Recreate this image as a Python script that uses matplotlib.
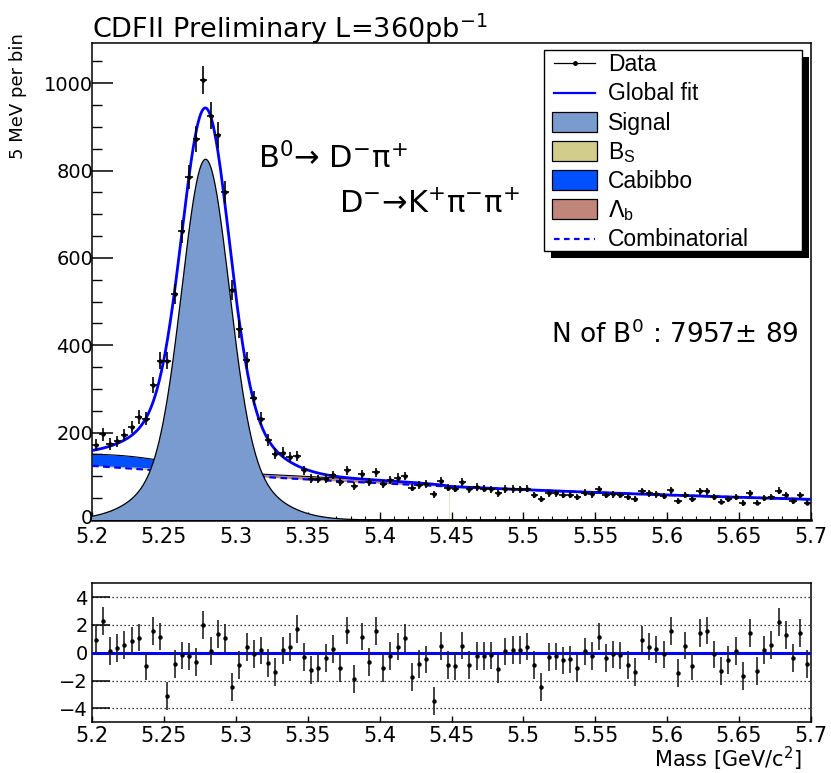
import numpy as np
import matplotlib
matplotlib.use("Agg")
import matplotlib.pyplot as plt
from matplotlib.patches import Rectangle
from matplotlib.lines import Line2D
from matplotlib.transforms import ScaledTranslation

# ---- binning: 5 MeV bins across the B0 mass window ----
mass_lo, mass_hi, bin_width = 5.2, 5.7, 0.005

# events per bin
counts = [172, 196, 174, 180, 195, 213, 236, 232, 309, 365,
          365, 518, 661, 786, 872, 1008, 926, 882, 750, 527,
          438, 366, 279, 232, 183, 152, 154, 144, 147, 114,
          95, 94, 95, 103, 86, 114, 78, 105, 86, 109,
          82, 91, 97, 101, 74, 80, 82, 59, 90, 74,
          72, 86, 70, 75, 72, 70, 61, 71, 71, 70,
          72, 57, 48, 61, 61, 57, 57, 53, 62, 59,
          70, 57, 59, 57, 52, 47, 66, 61, 59, 55,
          68, 44, 57, 47, 66, 66, 53, 42, 48, 53,
          39, 61, 40, 51, 53, 67, 57, 44, 57, 40]

# (data - fit) / error per bin
pulls = [0.93, 2.31, 0.12, 0.33, 0.57, 0.86, 1.10, -0.98, 1.55, 1.17,
         -3.10, -0.83, -0.19, -0.26, -0.64, 2.02, 0.12, 1.36, 1.05, -2.45,
         -0.86, 0.40, -0.07, 0.17, -0.71, -1.36, 0.17, 0.40, 1.71, -0.31,
         -1.21, -1.10, -0.38, 0.29, -1.10, 1.60, -1.90, 1.17, -0.67, 1.55,
         -1.10, -0.24, 0.45, 1.07, -1.74, -0.79, -0.48, -3.48, 0.48, -0.90,
         -0.95, 0.52, -0.90, -0.24, -0.24, -0.19, -1.14, 0.10, 0.21, 0.21,
         0.45, -0.90, -2.45, -0.31, -0.26, -0.55, -0.48, -1.10, 0.10, -0.24,
         1.17, -0.36, -0.12, -0.19, -0.86, -1.38, 0.93, 0.45, 0.24, -0.12,
         1.55, -1.43, 0.52, -0.95, 1.43, 1.60, -0.12, -1.31, -0.50, 0.12,
         -1.67, 1.40, -1.33, 0.21, 0.57, 2.24, 1.29, -0.38, 1.40, -0.79]

# ---- fit model parameters (events per bin) ----
signal_mean = 5.279
signal_core = (676.0, 0.016)      # amplitude, sigma
signal_tail = (150.0, 0.033)
comb_norm, comb_slope = 124.0, 1.93
cabibbo_par = (26.0, 5.21, 0.045)  # amplitude, mean, sigma
lambdab_par = (7.0, 5.375, 0.073)  # amplitude, centre, half-width
bs_par = (5.0, 5.25, 0.03)

x_ticks = [5.2, 5.25, 5.3, 5.35, 5.4, 5.45, 5.5, 5.55, 5.6, 5.65, 5.7]
x_tick_labels = ["5.2", "5.25", "5.3", "5.35", "5.4", "5.45", "5.5",
                 "5.55", "5.6", "5.65", "5.7"]
y_ticks = [0, 200, 400, 600, 800, 1000]
pull_ticks = [-4, -2, 0, 2, 4]

legend_labels = ["Data", "Global fit", "Signal", r"B$_\mathregular{S}$",
                 "Cabibbo", r"$\Lambda_\mathregular{b}$", "Combinatorial"]

title_text = r"CDFII Preliminary L=360pb$^{-1}$"
decay1_text = r"B$^{0}$→ D$^{-}$π$^{+}$"
decay2_text = r"D$^{-}$→K$^{+}$π$^{-}$π$^{+}$"
yield_text = "N of B$^{0}$ : 7957± 89"

signal_color = "#7a9bcf"
bs_color = "#d3cd8c"
cabibbo_color = "#0050ff"
lambdab_color = "#c0867a"
fit_color = "#0000ff"

# ---- model components ----
def gauss(m, a, mu, s):
    return a * np.exp(-0.5 * ((m - mu) / s) ** 2)

def signal(m):
    return gauss(m, signal_core[0], signal_mean, signal_core[1]) + \
        gauss(m, signal_tail[0], signal_mean, signal_tail[1])

def combinatorial(m):
    return comb_norm * np.exp(-comb_slope * (m - mass_lo))

def lambdab(m):
    a, c, w = lambdab_par
    u = np.clip(1 - ((m - c) / w) ** 2, 0, None)
    return a * np.sqrt(u)

def bs(m):
    return gauss(m, *bs_par)

def cabibbo(m):
    return gauss(m, *cabibbo_par)

W, H = 831, 773
fig = plt.figure(figsize=(W / 100, H / 100), dpi=100)
fx = lambda px: px / W
fy = lambda py: 1 - py / H

plt.rcParams["font.family"] = ["DejaVu Sans"]
plt.rcParams["mathtext.fontset"] = "dejavusans"

ax = fig.add_axes([fx(92), fy(520), (811 - 92) / W, (520 - 43.3) / H])
rax = fig.add_axes([fx(92), fy(722.3), (811 - 92) / W, (722.3 - 583.3) / H])

centers = mass_lo + bin_width * (np.arange(len(counts)) + 0.5)
counts_a = np.array(counts, dtype=float)

m = np.linspace(mass_lo, mass_hi, 2001)
comb = combinatorial(m)
lvl1 = comb + lambdab(m)
lvl2 = lvl1 + bs(m)
lvl3 = lvl2 + cabibbo(m)
sig = signal(m)
total = lvl3 + sig

# stacked backgrounds
ax.fill_between(m, comb, lvl1, color=lambdab_color, lw=0, zorder=2)
ax.fill_between(m, lvl1, lvl2, color=bs_color, lw=0, zorder=2)
ax.fill_between(m, lvl2, lvl3, color=cabibbo_color, lw=0, zorder=2)
ax.plot(m, lvl3, color="black", lw=0.8, zorder=3)
lb_edge = lambdab_par[1] + lambdab_par[2]
ax.plot([lb_edge, lb_edge], [0, combinatorial(lb_edge)], color="#e6e2cf",
        lw=0.8, zorder=1)
ax.plot(m, comb, color=fit_color, lw=1.6, ls=(0, (3, 2)), zorder=4)

# signal
ax.fill_between(m, 0, sig, facecolor=signal_color, edgecolor="none", zorder=5)
ax.plot(m, sig, color="black", lw=0.9, zorder=6)

# global fit
ax.plot(m, total, color=fit_color, lw=2.0, zorder=7)

# data
ax.errorbar(centers, counts_a, yerr=np.sqrt(counts_a), xerr=bin_width / 2,
            fmt="o", ms=2.2, color="black", elinewidth=1.2, capsize=0, zorder=8)

ax.set_xlim(mass_lo, mass_hi)
ax.set_ylim(0, 1091.6)
ax.set_xticks(x_ticks)
ax.set_xticklabels(x_tick_labels)
ax.set_xticks(np.arange(5.2, 5.7001, 0.01), minor=True)
ax.set_yticks(y_ticks)
ax.set_yticks(np.arange(0, 1091, 50), minor=True)
ax.tick_params(axis="x", which="major", direction="in", length=6, width=1,
               labelsize=15, pad=5, top=False)
ax.tick_params(axis="x", which="minor", direction="in", length=3, width=0.8,
               top=False)
ax.tick_params(axis="y", which="major", direction="in", length=15, width=1.1,
               labelsize=14, pad=-1, right=False)
ax.tick_params(axis="y", which="minor", direction="in", length=7.5,
               width=1.0, right=False)
for sp in ax.spines.values():
    sp.set_linewidth(1.1)
ax.spines["bottom"].set_linewidth(1.8)
# lift the zero label a few pixels so it clears the first mass label
zero_lab = ax.get_yticklabels()[0]
zero_lab.set_transform(zero_lab.get_transform() +
                       ScaledTranslation(0, 3 / 100, fig.dpi_scale_trans))

# residuals
rax.axhline(0, color=fit_color, lw=2.2, zorder=3)
for v in (-4, -2, 2, 4):
    rax.axhline(v, color="black", lw=0.9, ls=(0, (1, 2.2)), zorder=1)
rax.errorbar(centers, pulls, yerr=1.0, fmt="o", ms=2.2, color="black",
             ecolor="#222222", elinewidth=1.2, capsize=0, zorder=4)
rax.set_xlim(mass_lo, mass_hi)
rax.set_ylim(-5, 5)
rax.set_xticks(x_ticks)
rax.set_xticklabels(x_tick_labels)
rax.set_yticks(pull_ticks)
rax.tick_params(axis="x", direction="in", length=4, width=1, labelsize=15,
                pad=3, top=False)
rax.tick_params(axis="y", direction="in", length=13, width=1.1,
                labelsize=14, pad=3, right=False)
for sp in rax.spines.values():
    sp.set_linewidth(1.1)

# texts
fig.text(fx(92), fy(38.5), title_text, fontsize=19.5, va="baseline", ha="left")
fig.text(fx(18), fy(33), "5 MeV per bin", rotation=90, fontsize=13,
         ha="center", va="top")
fig.text(fx(258), fy(168), decay1_text, fontsize=22, va="baseline", ha="left")
fig.text(fx(339), fy(213), decay2_text, fontsize=22, va="baseline", ha="left")
fig.text(fx(551), fy(343), yield_text, fontsize=19, va="baseline", ha="left")
fig.text(fx(802), fy(767), r"Mass [GeV/c$^{2}$]", fontsize=15,
         va="baseline", ha="right")

# legend box with drop shadow
lx0, ly0, lx1, ly1 = 544, 50, 802, 251
tr = fig.transFigure
fig.add_artist(Rectangle((fx(lx0 + 7), fy(ly1 + 7)), (lx1 - lx0) / W,
                         (ly1 - ly0) / H, transform=tr, facecolor="black",
                         edgecolor="none", zorder=20))
fig.add_artist(Rectangle((fx(lx0), fy(ly1)), (lx1 - lx0) / W,
                         (ly1 - ly0) / H, transform=tr, facecolor="white",
                         edgecolor="black", lw=1.0, zorder=21))
row0, drow = 63.3, 29.2
sx0, sx1 = 552, 597
kinds = ["data", "line", signal_color, bs_color, cabibbo_color,
         lambdab_color, "dash"]
for k, (lab, kind) in enumerate(zip(legend_labels, kinds)):
    yc = row0 + k * drow
    if kind == "data":
        fig.add_artist(Line2D([fx(sx0 + 2), fx(sx1 - 2)], [fy(yc), fy(yc)],
                              transform=tr, color="black", lw=0.9, zorder=22))
        fig.add_artist(Line2D([fx((sx0 + sx1) / 2)], [fy(yc)], transform=tr,
                              marker="o", ms=2.5, color="black", zorder=22))
    elif kind == "line":
        fig.add_artist(Line2D([fx(sx0 + 2), fx(sx1 - 2)], [fy(yc), fy(yc)],
                              transform=tr, color=fit_color, lw=1.6, zorder=22))
    elif kind == "dash":
        fig.add_artist(Line2D([fx(sx0 + 2), fx(sx1 - 2)], [fy(yc), fy(yc)],
                              transform=tr, color=fit_color, lw=1.6,
                              ls=(0, (2.5, 2)), zorder=22))
    else:
        fig.add_artist(Rectangle((fx(sx0), fy(yc + 10)), (sx1 - sx0) / W,
                                 20 / H, transform=tr, facecolor=kind,
                                 edgecolor="black", lw=0.9, zorder=22))
    fig.text(fx(608), fy(yc + 8), lab, fontsize=16.5, family="Liberation Sans",
             va="baseline", ha="left", zorder=23)

fig.savefig("out.png", dpi=100, facecolor="white")
